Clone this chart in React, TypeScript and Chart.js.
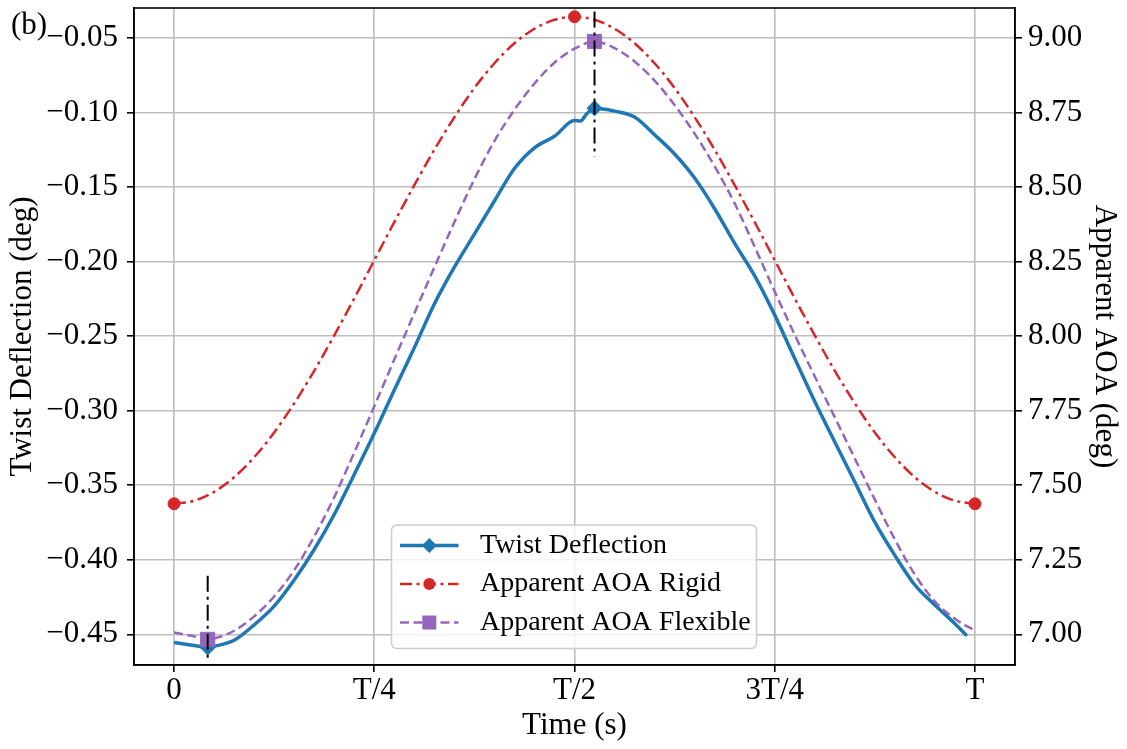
import React, { useEffect, useRef } from 'react';
import { Chart, registerables } from 'chart.js';

Chart.register(...registerables);

const FONT = "'Liberation Serif', 'Times New Roman', serif";

// ---- data ----
const timeGrid = [
  0, 0.025, 0.05, 0.075, 0.1, 0.125, 0.15, 0.175, 0.2, 0.225,
  0.25, 0.275, 0.3, 0.325, 0.35, 0.375, 0.4, 0.425, 0.45, 0.475,
  0.5, 0.525, 0.55, 0.575, 0.6, 0.625, 0.65, 0.675, 0.7, 0.725,
  0.75, 0.775, 0.8, 0.825, 0.85, 0.875, 0.9, 0.925, 0.95, 0.975, 1,
];
const rigidAOA = [
  7.438, 7.448, 7.478, 7.527, 7.594, 7.677, 7.775, 7.884, 8.003, 8.127,
  8.255, 8.383, 8.507, 8.626, 8.735, 8.833, 8.916, 8.983, 9.032, 9.062,
  9.072, 9.062, 9.032, 8.983, 8.916, 8.833, 8.735, 8.626, 8.507, 8.383,
  8.255, 8.127, 8.003, 7.884, 7.775, 7.677, 7.594, 7.527, 7.478, 7.448, 7.438,
];

const twistTime = [
  0, 0.025, 0.042, 0.05, 0.075, 0.1, 0.125, 0.15, 0.175, 0.2, 0.225,
  0.25, 0.275, 0.3, 0.325, 0.35, 0.375, 0.4, 0.425, 0.45, 0.475,
  0.5, 0.5075, 0.515, 0.525, 0.55, 0.575, 0.6, 0.625, 0.65, 0.675, 0.7, 0.725,
  0.75, 0.775, 0.8, 0.825, 0.85, 0.875, 0.9, 0.925, 0.95, 0.975, 0.99,
];
const twistDeflection = [
  -0.4555, -0.4575, -0.4589, -0.4581, -0.454, -0.4437, -0.4311, -0.4136, -0.3931, -0.3696, -0.3427,
  -0.3151, -0.286, -0.2577, -0.2283, -0.2036, -0.1815, -0.1592, -0.1374, -0.1235, -0.1158,
  -0.1052, -0.1056, -0.1009, -0.097, -0.0989, -0.1029, -0.1148, -0.1277, -0.1438, -0.1644, -0.1876, -0.2095,
  -0.2358, -0.2649, -0.2938, -0.321, -0.3478, -0.3747, -0.397, -0.4169, -0.4303, -0.4429, -0.451,
];

const flexTime = [
  0, 0.025, 0.042, 0.05, 0.075, 0.1, 0.125, 0.15, 0.175, 0.2, 0.225,
  0.25, 0.275, 0.3, 0.325, 0.35, 0.375, 0.4, 0.425, 0.45, 0.475,
  0.5, 0.525, 0.55, 0.575, 0.6, 0.625, 0.65, 0.675, 0.7, 0.725,
  0.75, 0.775, 0.8, 0.825, 0.85, 0.875, 0.9, 0.925, 0.95, 0.975, 1,
];
const flexibleAOA = [
  7.006, 6.993, 6.983, 6.986, 7.012, 7.06, 7.127, 7.215, 7.328, 7.46, 7.61,
  7.765, 7.922, 8.077, 8.231, 8.383, 8.527, 8.655, 8.76, 8.848, 8.918,
  8.965, 8.989, 8.967, 8.922, 8.858, 8.776, 8.68, 8.57, 8.446, 8.3,
  8.15, 8.005, 7.865, 7.728, 7.59, 7.452, 7.318, 7.2, 7.11, 7.052, 7.012,
];

const twistMarkerTimes = [0.042, 0.525];
const rigidMarkerTimes = [0, 0.5, 1];
const guideLowTime = [0.042, 0.042];
const guideLowValues = [-0.4107, -0.466];
const guideHighTime = [0.525, 0.525];
const guideHighValues = [-0.0321, -0.1296];

const xTickValues = [0, 0.25, 0.5, 0.75, 1];
const xTickLabels = ['0', 'T/4', 'T/2', '3T/4', 'T'];
const leftTickValues = [-0.45, -0.4, -0.35, -0.3, -0.25, -0.2, -0.15, -0.1, -0.05];
const rightTickValues = [7, 7.25, 7.5, 7.75, 8, 8.25, 8.5, 8.75, 9];

const seriesLabels = ['Twist Deflection', 'Apparent AOA Rigid', 'Apparent AOA Flexible'];

const BLUE = '#1f77b4';
const RED = '#d62728';
const PURPLE = '#9467bd';
const RED_DASH = [12, 4.5, 3, 4.5];
const PURPLE_DASH = [9, 4.5];
const GUIDE_DASH = [16, 5, 3, 5];

const fmtLeft = (v: number) => (v < 0 ? '\u2212' : '') + Math.abs(v).toFixed(2);

const framePlugin = {
  id: 'frame',
  beforeDatasetsDraw(chart: any) {
    const { ctx, chartArea } = chart;
    ctx.save();
    ctx.strokeStyle = '#000';
    ctx.lineWidth = 1.6;
    ctx.strokeRect(chartArea.left, chartArea.top, chartArea.right - chartArea.left, chartArea.bottom - chartArea.top);
    ctx.restore();
  },
};

function drawMarker(ctx: CanvasRenderingContext2D, style: string, x: number, y: number, color: string) {
  ctx.save();
  ctx.fillStyle = color;
  ctx.beginPath();
  if (style === 'diamond') {
    ctx.moveTo(x, y - 7.5);
    ctx.lineTo(x + 7.5, y);
    ctx.lineTo(x, y + 7.5);
    ctx.lineTo(x - 7.5, y);
    ctx.closePath();
  } else if (style === 'circle') {
    ctx.arc(x, y, 6, 0, Math.PI * 2);
  } else {
    ctx.rect(x - 7, y - 7, 14, 14);
  }
  ctx.fill();
  ctx.restore();
}

const legendPlugin = {
  id: 'insideLegend',
  afterDraw(chart: any) {
    const { ctx } = chart;
    const x0 = 391.5, y0 = 525, w = 365, h = 123.5, r = 6;
    ctx.save();
    ctx.beginPath();
    ctx.moveTo(x0 + r, y0);
    ctx.lineTo(x0 + w - r, y0);
    ctx.quadraticCurveTo(x0 + w, y0, x0 + w, y0 + r);
    ctx.lineTo(x0 + w, y0 + h - r);
    ctx.quadraticCurveTo(x0 + w, y0 + h, x0 + w - r, y0 + h);
    ctx.lineTo(x0 + r, y0 + h);
    ctx.quadraticCurveTo(x0, y0 + h, x0, y0 + h - r);
    ctx.lineTo(x0, y0 + r);
    ctx.quadraticCurveTo(x0, y0, x0 + r, y0);
    ctx.closePath();
    ctx.fillStyle = 'rgba(255,255,255,0.8)';
    ctx.fill();
    ctx.strokeStyle = '#cccccc';
    ctx.lineWidth = 1.5;
    ctx.stroke();

    const rows = [
      { label: seriesLabels[0], color: BLUE, dash: [] as number[], width: 3.5, marker: 'diamond', y: 545.5 },
      { label: seriesLabels[1], color: RED, dash: RED_DASH, width: 2.5, marker: 'circle', y: 584 },
      { label: seriesLabels[2], color: PURPLE, dash: PURPLE_DASH, width: 2.5, marker: 'square', y: 622.5 },
    ];
    rows.forEach((row) => {
      ctx.save();
      ctx.strokeStyle = row.color;
      ctx.lineWidth = row.width;
      ctx.setLineDash(row.dash);
      ctx.beginPath();
      ctx.moveTo(400, row.y);
      ctx.lineTo(458.5, row.y);
      ctx.stroke();
      ctx.restore();
      drawMarker(ctx, row.marker, 429.3, row.y, row.color);
      ctx.save();
      ctx.fillStyle = '#000';
      ctx.font = `28px ${FONT}`;
      ctx.textBaseline = 'middle';
      ctx.textAlign = 'left';
      ctx.fillText(row.label, 480, row.y);
      ctx.restore();
    });

    ctx.save();
    ctx.fillStyle = '#000';
    ctx.font = `31px ${FONT}`;
    ctx.textBaseline = 'alphabetic';
    ctx.textAlign = 'left';
    ctx.fillText('(b)', 11, 33.5);
    ctx.restore();
    ctx.restore();
  },
};

export default function App() {
  const ref = useRef<HTMLCanvasElement | null>(null);

  useEffect(() => {
    const canvas = ref.current;
    if (!canvas) return;

    const tickFont = { family: FONT, size: 31 };
    const titleFont = { family: FONT, size: 31 };
    const gridCommon = {
      color: '#bdbdbd',
      lineWidth: 1.6,
      tickColor: '#000',
      tickLength: 7,
      tickWidth: 1.6,
    };

    const chart = new Chart(canvas, {
      type: 'line',
      data: {
        datasets: [
          {
            label: seriesLabels[0],
            data: twistTime.map((t, i) => ({ x: t, y: twistDeflection[i] })),
            yAxisID: 'y',
            borderColor: BLUE,
            backgroundColor: BLUE,
            borderWidth: 3.5,
            pointStyle: 'rectRot',
            pointRadius: (c: any) => (twistMarkerTimes.includes(twistTime[c.dataIndex]) ? 7.5 : 0),
            pointBackgroundColor: BLUE,
            pointBorderColor: BLUE,
            pointBorderWidth: 1,
            cubicInterpolationMode: 'monotone',
            order: 4,
          },
          {
            label: seriesLabels[1],
            data: timeGrid.map((t, i) => ({ x: t, y: rigidAOA[i] })),
            yAxisID: 'y1',
            borderColor: RED,
            backgroundColor: RED,
            borderWidth: 2.5,
            borderDash: RED_DASH,
            pointStyle: 'circle',
            pointRadius: (c: any) => (rigidMarkerTimes.includes(timeGrid[c.dataIndex]) ? 6 : 0),
            pointBackgroundColor: RED,
            pointBorderColor: RED,
            pointBorderWidth: 1,
            cubicInterpolationMode: 'monotone',
            order: 3,
          },
          {
            label: seriesLabels[2],
            data: flexTime.map((t, i) => ({ x: t, y: flexibleAOA[i] })),
            yAxisID: 'y1',
            borderColor: PURPLE,
            backgroundColor: PURPLE,
            borderWidth: 2.5,
            borderDash: PURPLE_DASH,
            pointStyle: 'rect',
            pointRadius: (c: any) => (twistMarkerTimes.includes(flexTime[c.dataIndex]) ? 10 : 0),
            pointBackgroundColor: PURPLE,
            pointBorderColor: PURPLE,
            pointBorderWidth: 1,
            cubicInterpolationMode: 'monotone',
            order: 2,
          },
          {
            label: 'guide-low',
            data: guideLowTime.map((t, i) => ({ x: t, y: guideLowValues[i] })),
            yAxisID: 'y',
            borderColor: '#000',
            borderWidth: 2,
            borderDash: GUIDE_DASH,
            pointRadius: 0,
            order: 0,
          },
          {
            label: 'guide-high',
            data: guideHighTime.map((t, i) => ({ x: t, y: guideHighValues[i] })),
            yAxisID: 'y',
            borderColor: '#000',
            borderWidth: 2,
            borderDash: GUIDE_DASH,
            pointRadius: 0,
            order: 0,
          },
        ],
      },
      options: {
        animation: false,
        responsive: false,
        devicePixelRatio: 1,
        events: [],
        layout: { padding: { left: 0, right: 0, top: 8, bottom: 0 } },
        plugins: {
          legend: { display: false },
          tooltip: { enabled: false },
        },
        scales: {
          x: {
            type: 'linear',
            min: -0.05,
            max: 1.05,
            afterBuildTicks: (s: any) => {
              s.ticks = xTickValues.map((v) => ({ value: v }));
            },
            afterFit: (s: any) => {
              s.height = 84;
              s.paddingLeft = 0;
              s.paddingRight = 0;
            },
            ticks: {
              autoSkip: false,
              maxRotation: 0,
              padding: 0,
              color: '#000',
              font: tickFont,
              callback: (v: any) => xTickLabels[xTickValues.indexOf(Number(v))] ?? '',
            },
            grid: { ...gridCommon },
            border: { display: true, color: '#000', width: 1.6 },
            title: {
              display: true,
              text: 'Time (s)',
              color: '#000',
              font: titleFont,
              padding: { top: 4, bottom: 5 },
            },
          },
          y: {
            type: 'linear',
            position: 'left',
            min: -0.4706,
            max: -0.0297,
            afterBuildTicks: (s: any) => {
              s.ticks = leftTickValues.map((v) => ({ value: v }));
            },
            afterFit: (s: any) => {
              s.width = 134;
              s.paddingTop = 0;
              s.paddingBottom = 0;
            },
            ticks: {
              autoSkip: false,
              padding: 9,
              color: '#000',
              font: tickFont,
              callback: (v: any) => fmtLeft(Number(v)),
            },
            grid: { ...gridCommon },
            border: { display: true, color: '#000', width: 1.6 },
            title: {
              display: true,
              text: 'Twist Deflection (deg)',
              color: '#000',
              font: titleFont,
              padding: { top: 4, bottom: 4 },
            },
          },
          y1: {
            type: 'linear',
            position: 'right',
            min: 6.897,
            max: 9.1015,
            afterBuildTicks: (s: any) => {
              s.ticks = rightTickValues.map((v) => ({ value: v }));
            },
            afterFit: (s: any) => {
              s.width = 112;
              s.paddingTop = 0;
              s.paddingBottom = 0;
            },
            ticks: {
              autoSkip: false,
              padding: 6,
              color: '#000',
              font: tickFont,
              callback: (v: any) => Number(v).toFixed(2),
            },
            grid: { ...gridCommon, drawOnChartArea: false },
            border: { display: true, color: '#000', width: 1.6 },
            title: {
              display: true,
              text: 'Apparent AOA (deg)',
              color: '#000',
              font: titleFont,
              padding: { top: 4, bottom: 4 },
            },
          },
        },
      } as any,
      plugins: [framePlugin, legendPlugin],
    });

    return () => chart.destroy();
  }, []);

  return (
    <div style={{ position: 'absolute', left: 0, top: 0, width: 1127, height: 749, background: '#fff' }}>
      <canvas ref={ref} width={1127} height={749} style={{ display: 'block', width: 1127, height: 749 }} />
    </div>
  );
}
